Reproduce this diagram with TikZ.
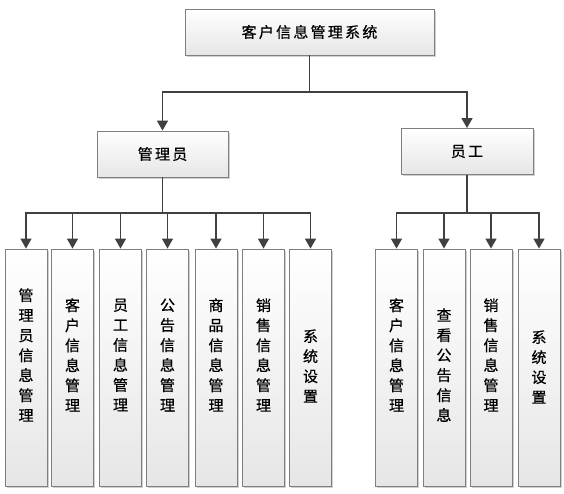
\documentclass[tikz,border=0pt]{standalone}
\usepackage{fontspec}
\newfontfamily\cjk[FakeBold=0.6]{Noto Sans CJK SC}
\newfontfamily\cjksp[LetterSpace=15,FakeBold=0.6]{Noto Sans CJK SC}
\usetikzlibrary{shadows,arrows.meta}
\definecolor{linec}{HTML}{404040}
\definecolor{boxborder}{HTML}{7F7F7F}
\definecolor{boxbottom}{HTML}{E6E6E6}
\begin{document}
\begin{tikzpicture}[x=1pt,y=-1pt,
  box/.style={draw=boxborder, line width=0.9pt, top color=white, bottom color=boxbottom,
    drop shadow={shadow xshift=1.5pt, shadow yshift=-1.5pt, opacity=0.3, fill=black!60},
    inner sep=0pt},
  headbox/.style={box, font=\cjksp\fontsize{15pt}{18pt}\selectfont, minimum height=46pt},
  leaf/.style={box, minimum width=42pt, minimum height=237pt},
  lbl/.style={inner sep=0pt, align=center, font=\cjk\fontsize{15pt}{20pt}\selectfont},
  line/.style={draw=linec, line width=1.6pt},
  conn/.style={line, -{Triangle[width=11pt,length=10pt]}}]
\fill[white] (0,0) rectangle (564,493);
\useasboundingbox (0,0) rectangle (564,493);

\node[headbox, minimum width=249pt] (top) at (309.5,32) {客户信息管理系统};
\node[headbox, minimum width=131pt] (admin) at (162.5,154) {管理员};
\node[headbox, minimum width=132pt] (emp) at (467,151.5) {员工};

% admin leaves
\node[leaf] (a1) at (26,367.5) {};
\node[leaf] (a2) at (72.5,367.5) {};
\node[leaf] (a3) at (120.5,367.5) {};
\node[leaf] (a4) at (167.5,367.5) {};
\node[leaf] (a5) at (216,367.5) {};
\node[leaf] (a6) at (263.5,367.5) {};
\node[leaf] (a7) at (310.5,367.5) {};
% employee leaves
\node[leaf] (e1) at (396.5,367.5) {};
\node[leaf] (e2) at (444,367.5) {};
\node[leaf] (e3) at (491,367.5) {};
\node[leaf] (e4) at (539,367.5) {};

\node[lbl] (ta1) at (26,355) {管\\理\\员\\信\\息\\管\\理};
\node[lbl] (ta2) at (72.5,355) {客\\户\\信\\息\\管\\理};
\node[lbl] (ta3) at (120.5,355) {员\\工\\信\\息\\管\\理};
\node[lbl] (ta4) at (167.5,355) {公\\告\\信\\息\\管\\理};
\node[lbl] (ta5) at (216,355) {商\\品\\信\\息\\管\\理};
\node[lbl] (ta6) at (263.5,355) {销\\售\\信\\息\\管\\理};
\node[lbl] (ta7) at (310.5,366) {系\\统\\设\\置};
\node[lbl] (te1) at (396.5,355) {客\\户\\信\\息\\管\\理};
\node[lbl] (te2) at (444,365) {查\\看\\公\\告\\信\\息};
\node[lbl] (te3) at (491,355) {销\\售\\信\\息\\管\\理};
\node[lbl] (te4) at (539,367) {系\\统\\设\\置};

% connectors
\coordinate (j0) at (309.5,92);
\draw[conn] (top.south) -- (j0) -| (admin.north);
\draw[conn] (j0) -| (emp.north);

\coordinate (j1) at (162.5,213);
\draw[line] (admin.south) -- (j1);
\foreach \n in {a1,a2,a3,a4,a5,a6,a7}{
  \draw[conn] (j1) -| (\n.north);
}
\coordinate (j2) at (467,213);
\draw[line] (emp.south) -- (j2);
\foreach \n in {e1,e2,e3,e4}{
  \draw[conn] (j2) -| (\n.north);
}
\end{tikzpicture}
\end{document}
